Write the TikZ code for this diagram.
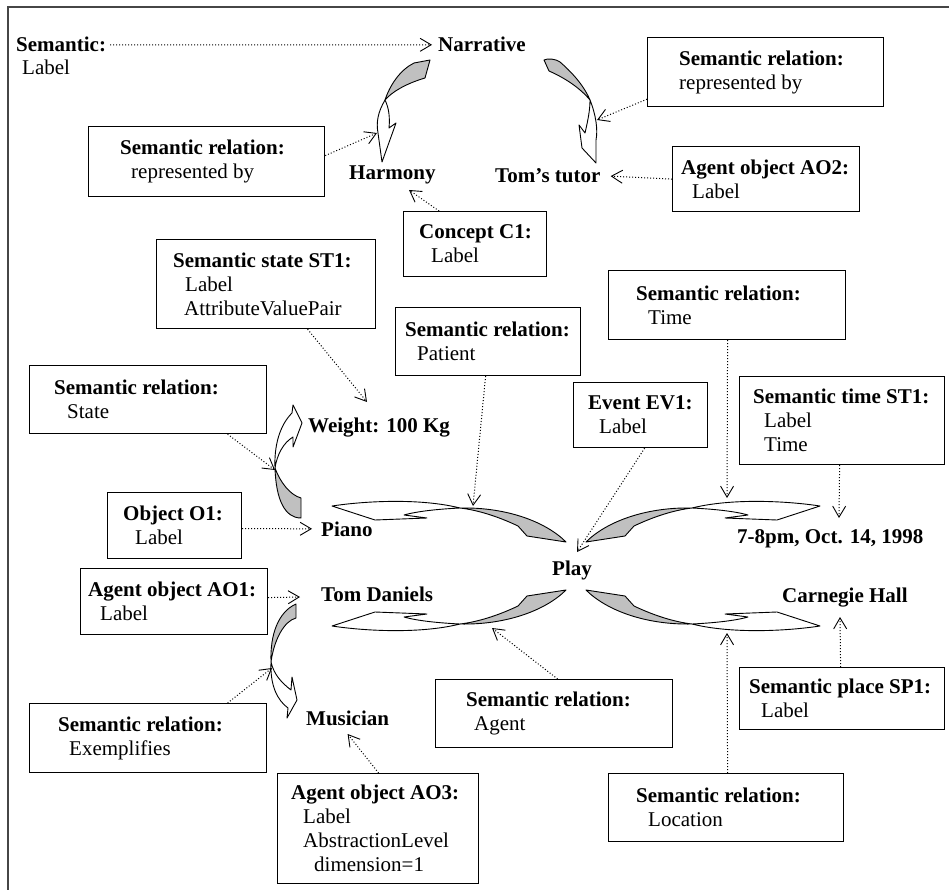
\documentclass[tikz,border=0pt]{standalone}
\usepackage{fontspec}
\setmainfont{Liberation Serif}
\usetikzlibrary{arrows.meta,calc}
\definecolor{rgray}{RGB}{192,192,192}
\definecolor{framec}{RGB}{70,70,70}
\tikzset{
 bx/.style={draw=black, line width=1.2pt, inner sep=0pt},
 bt/.style={inner sep=0pt, align=left, font=\fontsize{21}{24}\selectfont},
 lbl/.style={inner sep=0pt, font=\fontsize{21}{24}\selectfont\bfseries},
 dar/.style={line width=1pt, dash pattern=on 1pt off 2pt, -{Straight Barb[length=11pt,width=13pt,line width=0.9pt]}},
 cg/.style={fill=rgray, draw=black, line width=0.9pt, line join=round},
 cw/.style={fill=white, draw=black, line width=0.9pt, line join=round}
}
\newcommand{\tbox}[7]{%
 \node[bx, minimum width=#4pt, minimum height=#5pt, anchor=north west] (#1) at (#2,#3) {};
 \node[bt, anchor=west] (#1t) at ([xshift=#6pt]#1.west) {#7};}
\newcommand{\playarr}{%
 \filldraw[cg] (566,590) -- (527,596) -- (518,606) .. controls (497,616) and (477,622) .. (460,624) .. controls (505,625) and (545,611) .. (566,590) -- cycle;
 \filldraw[cw] (460,624) .. controls (440,623) and (418,621) .. (404,617) -- (427,614) -- (375,612) -- (332,626) .. controls (365,631) and (420,634) .. (460,624) -- cycle;}
\begin{document}
\begin{tikzpicture}[x=1pt,y=-1pt]
\useasboundingbox (0,0) rectangle (949,890);
\draw[framec, line width=1.3pt] (8,890) -- (8,7) -- (949,7);

% curved block arrows around Play
\playarr
\begin{scope}[shift={(1152,0)},xscale=-1] \playarr \end{scope}
\begin{scope}[shift={(0,1132)},yscale=-1] \playarr \end{scope}
\begin{scope}[shift={(1152,1132)},scale=-1] \playarr \end{scope}

% Narrative -> Harmony
\filldraw[cg] (414,63) -- (430,60) -- (425,78) .. controls (405,84) and (392,92) .. (385,100) .. controls (390,85) and (400,70) .. (414,63) -- cycle;
\filldraw[cw] (385,100) .. controls (378,112) and (376,122) .. (378,133) -- (382,162) -- (396,123) -- (389,128) .. controls (390,118) and (389,108) .. (385,100) -- cycle;
% Narrative -> Tom's tutor
\filldraw[cg] (544,60) .. controls (548,58) and (556,59) .. (560,62) .. controls (575,75) and (585,88) .. (590,100) .. controls (580,88) and (565,78) .. (549,71) -- cycle;
\filldraw[cw] (590,100) .. controls (596,115) and (598,130) .. (596,140) -- (596,163) -- (582,148) -- (579,125) -- (585,133) .. controls (588,120) and (590,110) .. (590,100) -- cycle;
% Piano -> Weight
\filldraw[cg] (301,498) -- (301,518) .. controls (285,518) and (276,500) .. (275,468) .. controls (280,482) and (290,495) .. (301,498) -- cycle;
\filldraw[cw] (275,468) .. controls (274,445) and (280,425) .. (292,413) -- (293,405) -- (302,423) -- (293,447) -- (293,437) .. controls (283,443) and (277,455) .. (275,468) -- cycle;
% Tom Daniels -> Musician
\filldraw[cg] (296,604) -- (296,618) .. controls (284,621) and (274,640) .. (271,662) .. controls (270,635) and (278,612) .. (296,604) -- cycle;
\filldraw[cw] (271,662) .. controls (270,685) and (277,700) .. (288,708) -- (287,718) -- (297,700) -- (292,677) -- (291,690) .. controls (282,683) and (274,675) .. (271,662) -- cycle;

% plain labels
\node[lbl, anchor=base west] (semh) at (16,52) {Semantic:};
\node[bt, anchor=base west] (seml) at (22,75) {Label};
\node[lbl, anchor=base west] (narr) at (438,52) {Narrative};
\node[lbl, anchor=base west] (harm) at (349,180) {Harmony};
\node[lbl, anchor=base west] (tutor) at (495,183) {Tom’s tutor};
\node[lbl, anchor=base west] (weight) at (308,432) {Weight: 100 Kg};
\node[lbl, anchor=base west] (piano) at (321,536) {Piano};
\node[lbl, anchor=base west] (tomd) at (321,601) {Tom Daniels};
\node[lbl, anchor=base west] (mus) at (306,725) {Musician};
\node[lbl, anchor=base west] (play) at (552,575) {Play};
\node[lbl, anchor=base west] (time) at (737,543) {7-8pm, Oct. 14, 1998};
\node[lbl, anchor=base west] (carn) at (782,602) {Carnegie Hall};

% boxes
\tbox{b1}{88}{126}{236}{70}{32}{\textbf{Semantic relation:}\\\hspace*{11pt}represented by}
\tbox{b2}{647}{37}{236}{69}{32}{\textbf{Semantic relation:}\\represented by}
\tbox{b3}{672}{146}{187}{65}{9}{\textbf{Agent object AO2:}\\\hspace*{11pt}Label}
\tbox{b4}{403}{211}{143}{65}{16}{\textbf{Concept C1:}\\\hspace*{12pt}Label}
\tbox{b5}{156}{239}{219}{89}{17}{\textbf{Semantic state ST1:}\\\hspace*{12pt}Label\\\hspace*{11pt}AttributeValuePair}
\tbox{b6}{395}{307}{185}{68}{10}{\textbf{Semantic relation:}\\\hspace*{12pt}Patient}
\tbox{b7}{608}{270}{237}{69}{28}{\textbf{Semantic relation:}\\\hspace*{12pt}Time}
\tbox{b8}{29}{365}{237}{68}{25}{\textbf{Semantic relation:}\\\hspace*{13pt}State}
\tbox{b9}{573}{382}{134}{65}{15}{\textbf{Event EV1:}\\\hspace*{11pt}Label}
\tbox{b10}{739}{376}{205}{88}{14}{\textbf{Semantic time ST1:}\\\hspace*{11pt}Label\\\hspace*{11pt}Time}
\tbox{b11}{107}{492}{134}{66}{16}{\textbf{Object O1:}\\\hspace*{12pt}Label}
\tbox{b12}{80}{568}{187}{66}{8}{\textbf{Agent object AO1:}\\\hspace*{12pt}Label}
\tbox{b13}{29}{703}{237}{69}{29}{\textbf{Semantic relation:}\\\hspace*{11pt}Exemplifies}
\tbox{b14}{277}{773}{201}{110}{14}{\textbf{Agent object AO3:}\\\hspace*{12pt}Label\\\hspace*{12pt}AbstractionLevel\\\hspace*{23pt}dimension=1}
\tbox{b15}{435}{679}{237}{68}{31}{\textbf{Semantic relation:}\\\hspace*{8pt}Agent}
\tbox{b16}{739}{667}{205}{62}{10}{\textbf{Semantic place SP1:}\\\hspace*{12pt}Label}
\tbox{b17}{608}{773}{235}{68}{28}{\textbf{Semantic relation:}\\\hspace*{12pt}Location}

% tips of dotted connectors
\coordinate (t2) at (377,133);
\coordinate (t3) at (597,120);
\coordinate (t5) at (409,190);
\coordinate (t6) at (367,402);
\coordinate (t7) at (275,470);
\coordinate (t8) at (473,506);
\coordinate (t9) at (577,552);
\coordinate (t10) at (727,498);
\coordinate (t11) at (839,518);
\coordinate (t13) at (300,597);
\coordinate (t14) at (272,668);
\coordinate (t16) at (492,628);
\coordinate (t17) at (727,633);
\coordinate (t18) at (840,617);

\draw[dar] ([xshift=4pt]semh.east) -- ([xshift=-6pt]narr.west);
\draw[dar] ([yshift=6pt]b1.east) -- (t2);
\draw[dar] ([yshift=8pt]b2.south west) -- (t3);
\draw[dar] (b3.west) -- ([xshift=10pt]tutor.east);
\draw[dar] ([xshift=-36pt]b4.north) -- (t5);
\draw[dar] ([xshift=41.5pt]b5.south) -- (t6);
\draw[dar] ([xshift=79.5pt]b8.south) -- (t7);
\draw[dar] ([xshift=-2.5pt]b6.south) -- (t8);
\draw[dar] ([xshift=4pt]b9.south) -- (t9);
\draw[dar] ([xshift=0.5pt]b7.south) -- (t10);
\draw[dar] ([xshift=-2.5pt]b10.south) -- (t11);
\draw[dar] ([yshift=-3pt]b11.east) -- ([xshift=-9pt]piano.west);
\draw[dar] ([yshift=4pt]b12.east) -- (t13);
\draw[dar] ([xshift=79.5pt]b13.north) -- (t14);
\draw[dar] ([xshift=0.5pt]b14.north) -- ([yshift=-9pt]mus.base);
\draw[dar] ([xshift=3.5pt]b15.north) -- (t16);
\draw[dar] ([xshift=1.5pt]b17.north) -- (t17);
\draw[dar] ([xshift=-1.5pt]b16.north) -- (t18);
\end{tikzpicture}
\end{document}
